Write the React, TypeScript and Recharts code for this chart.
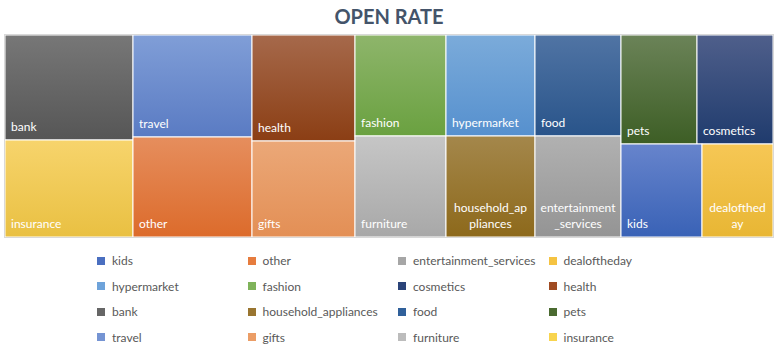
import React from "react";
import { Treemap } from "recharts";

// open rate per category (%)
const categories = [
  "bank",
  "insurance",
  "travel",
  "other",
  "health",
  "gifts",
  "fashion",
  "furniture",
  "hypermarket",
  "household_appliances",
  "food",
  "entertainment_services",
  "pets",
  "cosmetics",
  "kids",
  "dealoftheday",
];
const openRate = [19.2, 17.7, 17.3, 17.0, 15.6, 14.1, 13.1, 13.1, 12.8, 12.8, 12.4, 12.4, 11.8, 11.8, 10.8, 9.4];

// how Excel grouped the tiles into columns
const columnGroups: (string | string[])[][] = [
  ["bank", "insurance"],
  ["travel", "other"],
  ["health", "gifts"],
  ["fashion", "furniture"],
  ["hypermarket", "household_appliances"],
  ["food", "entertainment_services"],
  [
    ["pets", "cosmetics"],
    ["kids", "dealoftheday"],
  ],
];

const legendOrder = [
  "kids",
  "other",
  "entertainment_services",
  "dealoftheday",
  "hypermarket",
  "fashion",
  "cosmetics",
  "health",
  "bank",
  "household_appliances",
  "food",
  "pets",
  "travel",
  "gifts",
  "furniture",
  "insurance",
];

const palette: Record<string, [string, string, string]> = {
  // [legend, gradient top, gradient bottom]
  bank: ["#666666", "#777777", "#565656"],
  insurance: ["#f8d44e", "#f7d46c", "#e9c042"],
  travel: ["#7594d3", "#809ed7", "#5a7bc3"],
  other: ["#e67c3e", "#e68e5d", "#dc6b2b"],
  health: ["#a04b22", "#a6694b", "#8b3e14"],
  gifts: ["#eb9d66", "#eba878", "#e38f55"],
  fashion: ["#7fb35a", "#8eb56b", "#6aa140"],
  furniture: ["#bcbcbc", "#c6c6c6", "#a8a8a8"],
  hypermarket: ["#6ea3da", "#7babda", "#5690ce"],
  household_appliances: ["#997530", "#a4874b", "#8d691b"],
  food: ["#30609a", "#5074a4", "#29548a"],
  entertainment_services: ["#a6a6a6", "#b1b1b1", "#949494"],
  pets: ["#4a6a30", "#6b8358", "#3d5e25"],
  cosmetics: ["#2b4479", "#4f5f8b", "#1f3b6d"],
  kids: ["#4a6fc0", "#6784cc", "#3962b6"],
  dealoftheday: ["#f5c342", "#f6c755", "#e8b634"],
};

const FONT = "Lato, 'Open Sans', sans-serif";

const rateOf = (name: string) => openRate[categories.indexOf(name)];
const leaf = (name: string) => ({ name, size: rateOf(name) });

const treeData = columnGroups.map((group, i) => ({
  name: `column${i}`,
  children: group.map((item) =>
    Array.isArray(item) ? { name: item.join("+"), children: item.map(leaf) } : leaf(item)
  ),
}));

let measureCtx: CanvasRenderingContext2D | null = null;
function textWidth(s: string) {
  if (!measureCtx) {
    measureCtx = document.createElement("canvas").getContext("2d");
    if (measureCtx) measureCtx.font = `12px ${FONT}`;
  }
  return measureCtx ? measureCtx.measureText(s).width : s.length * 6.3;
}

// greedy character wrap, like Excel does for long names
function wrapLabel(label: string, maxWidth: number) {
  if (textWidth(label) <= maxWidth) return [label];
  const lines: string[] = [];
  let rest = label;
  while (rest.length) {
    let n = rest.length;
    while (n > 1 && textWidth(rest.slice(0, n)) > maxWidth) n--;
    lines.push(rest.slice(0, n));
    rest = rest.slice(n);
  }
  return lines;
}

function TreemapCell(props: any) {
  const { x, y, width, height, name, children } = props;
  if (children && children.length) return null;
  if (!palette[name]) return null;
  const [, top, bottom] = palette[name];
  const gid = `grad-${name}`;
  const lines = wrapLabel(name, width - 10);
  const bottomY = y + height - 9;
  return (
    <g>
      <defs>
        <linearGradient id={gid} x1="0" y1="0" x2="0" y2="1">
          <stop offset="0%" stopColor={top} />
          <stop offset="100%" stopColor={bottom} />
        </linearGradient>
      </defs>
      <rect x={x} y={y} width={width} height={height} fill={`url(#${gid})`} stroke="#ffffff" strokeWidth={1} />
      {lines.length === 1 ? (
        <text x={x + 6} y={bottomY} fill="#ffffff" fontSize={12} fontFamily={FONT}>
          {name}
        </text>
      ) : (
        lines.map((line, i) => (
          <text
            key={line}
            x={x + width / 2}
            y={bottomY - (lines.length - 1 - i) * 16}
            fill="#ffffff"
            fontSize={12}
            fontFamily={FONT}
            textAnchor="middle"
          >
            {line}
          </text>
        ))
      )}
    </g>
  );
}

export default function App() {
  return (
    <div
      style={{
        position: "absolute",
        left: 0,
        top: 0,
        width: 778,
        height: 358,
        background: "#ffffff",
        fontFamily: FONT,
      }}
    >
      <div
        style={{
          position: "absolute",
          left: 0,
          top: 4,
          width: 778,
          textAlign: "center",
          fontSize: 20,
          fontWeight: 700,
          color: "#44546A",
        }}
      >
        OPEN RATE
      </div>
      <div style={{ position: "absolute", left: 4, top: 34, border: "1px solid #d9d9d9" }}>
        <Treemap
          width={768}
          height={202}
          data={treeData}
          dataKey="size"
          nameKey="name"
          aspectRatio={0.01}
          isAnimationActive={false}
          content={TreemapCell as any}
        />
      </div>
      <div
        style={{
          position: "absolute",
          left: 97,
          top: 248,
          display: "grid",
          gridTemplateColumns: "150.5px 150.5px 150.5px 150.5px",
          rowGap: 0,
          fontSize: 12,
          color: "#595959",
        }}
      >
        {legendOrder.map((name) => (
          <div key={name} style={{ display: "flex", alignItems: "center", height: 25.5 }}>
            <span
              style={{
                display: "inline-block",
                width: 8,
                height: 8,
                background: palette[name][0],
                marginRight: 7,
              }}
            />
            {name}
          </div>
        ))}
      </div>
    </div>
  );
}
